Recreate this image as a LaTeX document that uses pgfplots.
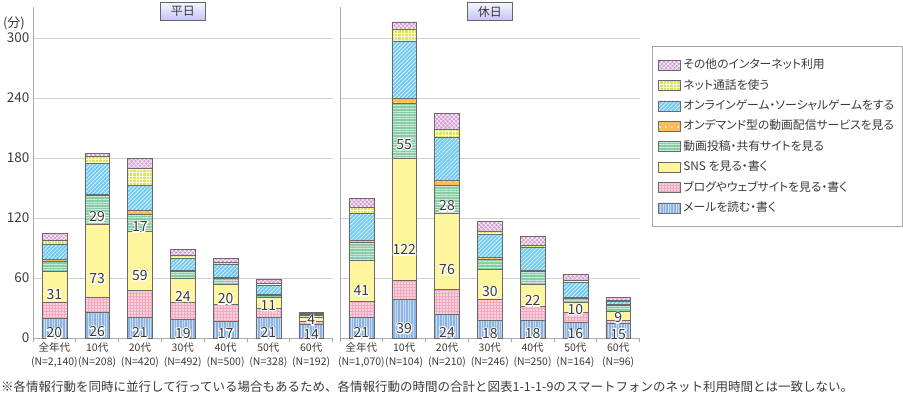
\documentclass[border=0pt]{standalone}
\usepackage{fontspec}
\setmainfont{Noto Sans CJK JP}
\newfontfamily\jpp[RawFeature=+palt]{Noto Sans CJK JP}
\usepackage{pgfplots}
\usepackage{pgfplotstable}
\pgfplotsset{compat=1.18}
\usetikzlibrary{patterns.meta}
\newcommand\halo[1]{\rlap{\special{pdf:literal direct 1 Tr 1 1 1 RG 2.4 w 1 j}#1\special{pdf:literal direct 0 Tr}}#1}

\definecolor{cMail}{HTML}{8DB3E2}
\definecolor{cMailL}{HTML}{C6DAF2}
\definecolor{cBlog}{HTML}{F3A8BD}
\definecolor{cSNS}{HTML}{FFF59D}
\definecolor{cVid}{HTML}{88CDA6}
\definecolor{cVidL}{HTML}{CBEAD8}
\definecolor{cOnd}{HTML}{F8BE55}
\definecolor{cGame}{HTML}{6FC9F1}
\definecolor{cNet}{HTML}{DCE458}
\definecolor{cOth}{HTML}{D69DD4}
\definecolor{cEdge}{HTML}{6A6A6A}
\definecolor{cTxt}{HTML}{3A3A3A}

\pgfplotstableread{
x mail blog sns vid ond game net oth vl
0 20 16 31 10 1.5 15 4 7 0
1 26 15 73 29 1 31 7 3 1
2 21 27 59 17 4 25 17 10 1
3 19 17 24 7 1 12 3 6 0
4 17 17 20 6 1 13 2 4 0
5 21 9 11 2 1 9 2 4 0
6 14 3 4 1.5 0.5 1 1 0.5 0
}\wkday

\pgfplotstableread{
x mail blog sns vid ond game net oth vl
0 21 16 41 18 1.5 27 6 9 0
1 39 19 122 55 5 57 12 7 1
2 24 25 76 28 5 43 8 16 1
3 18 21 30 10 2 23 3 10 0
4 18 14 22 13 1 23 2 9 0
5 16 10 10 4 1 15 2 6 0
6 15 3 9 6 0.5 3.5 0.5 3 0
}\hday

\pgfplotsset{
  sMail/.style={draw=cEdge, line width=0.5pt, preaction={fill=cMail}, pattern={Lines[angle=90,distance=2.6pt,line width=0.7pt]}, pattern color=cMailL},
  sBlog/.style={draw=cEdge, line width=0.5pt, preaction={fill=cBlog}, pattern={Dots[distance=3pt,radius=0.85pt]}, pattern color=white},
  sSNS/.style={draw=cEdge, line width=0.5pt, fill=cSNS},
  sVid/.style={draw=cEdge, line width=0.5pt, preaction={fill=cVid}, pattern={Lines[angle=0,distance=2.6pt,line width=0.7pt]}, pattern color=cVidL},
  sOnd/.style={draw=cEdge, line width=0.5pt, preaction={fill=cOnd}, pattern={Dots[distance=6pt,radius=0.8pt]}, pattern color=white},
  sGame/.style={draw=cEdge, line width=0.5pt, preaction={fill=cGame}, pattern={Lines[angle=45,distance=2.8pt,line width=0.8pt]}, pattern color=white!75!cGame},
  sNet/.style={draw=cEdge, line width=0.5pt, preaction={fill=cNet}, pattern={Hatch[angle=0,distance=3.4pt,line width=0.7pt]}, pattern color=white!85!cNet},
  sOth/.style={draw=cEdge, line width=0.5pt, preaction={fill=cOth}, pattern={Hatch[angle=45,distance=3pt,line width=0.6pt]}, pattern color=white!85!cOth},
  lab/.style={every node near coord/.append style={anchor=center, yshift=-0.25pt*\rawy, text=cTxt, font=\fontsize{14}{16}\selectfont, inner sep=0pt}},
  base/.style={
    scale only axis, x=42.8pt, y=1pt,
    xmin=-0.5, xmax=6.5, ymin=0, ymax=331,
    ybar stacked, bar width=0.58,
    axis lines=left, axis line style={-, draw=gray!65, line width=1pt},
    xtick={0,...,6}, ytick={0,60,...,300},
    minor xtick={-0.5,0.5,...,6.5},
    major tick length=0pt, minor tick length=3.5pt, tick align=outside,
    minor tick style={draw=gray!70, line width=0.8pt},
    ymajorgrids, grid style={draw=gray!35, line width=0.8pt},
    /pgf/number format/assume math mode=true,
    yticklabel style={font=\fontsize{13.5}{15}\selectfont, text=cTxt},
    xticklabel style={font=\fontsize{10.5}{14.5}\selectfont, text=cTxt, align=center, yshift=-1pt},
    every axis title/.style={at={(0.5,1)}, anchor=center, yshift=-4.5pt, draw=gray!80!black, line width=0.6pt,
      top color=blue!4!white, bottom color=blue!22!white!95!gray, minimum width=45pt, minimum height=17.5pt,
      inner sep=0pt, font=\fontsize{12}{14}\selectfont, text=cTxt},
    legend image code/.code={\draw[##1] (0pt,-5pt) rectangle (22pt,5pt);},
  },
}

\newcommand{\bars}[1]{%
  \addplot[sMail, lab, visualization depends on=rawy\as\rawy,
    nodes near coords={\halo{\pgfmathprintnumber{\rawy}}}] table[x=x,y=mail]{#1};
  \addplot[sBlog] table[x=x,y=blog]{#1};
  \addplot[sSNS, lab, visualization depends on=rawy\as\rawy,
    nodes near coords={\halo{\pgfmathprintnumber{\rawy}}}] table[x=x,y=sns]{#1};
  \addplot[sVid, lab, visualization depends on=rawy\as\rawy,
    visualization depends on={\thisrow{vl}\as\vlab},
    nodes near coords={\ifdim\vlab pt>0.5pt \halo{\pgfmathprintnumber{\rawy}}\fi}] table[x=x,y=vid]{#1};
  \addplot[sOnd] table[x=x,y=ond]{#1};
  \addplot[sGame] table[x=x,y=game]{#1};
  \addplot[sNet] table[x=x,y=net]{#1};
  \addplot[sOth] table[x=x,y=oth]{#1};
}

\begin{document}
\begin{tikzpicture}
\path[use as bounding box] (-33pt,-59pt) rectangle (870pt,338pt);
\begin{axis}[base, at={(0pt,0pt)}, anchor=south west, title={平日},
  xticklabels={{全年代\\(N=2,140)},{10代\\(N=208)},{20代\\(N=420)},{30代\\(N=492)},{40代\\(N=500)},{50代\\(N=328)},{60代\\(N=192)}}]
\bars{\wkday}
\end{axis}
\begin{axis}[base, at={(307pt,0pt)}, anchor=south west, title={休日},
  yticklabels={},
  xticklabels={{全年代\\(N=1,070)},{10代\\(N=104)},{20代\\(N=210)},{30代\\(N=246)},{40代\\(N=250)},{50代\\(N=164)},{60代\\(N=96)}},
  reverse legend,
  legend cell align=left,
  legend style={at={(1.0414,0.882)}, anchor=north west, draw=gray!70, line width=0.8pt,
    font=\jpp\fontsize{11.8}{14}\selectfont, text=cTxt, inner xsep=6pt, inner ysep=8.3pt, row sep=0pt,
    nodes={inner xsep=2.5pt, inner ysep=3pt, text height=11pt, text depth=3.4pt}},
  legend entries={メールを読む・書く, ブログやウェブサイトを見る・書く, SNS を見る・書く, 動画投稿・共有サイトを見る, オンデマンド型の動画配信サービスを見る, オンラインゲーム・ソーシャルゲームをする, ネット通話を使う, その他のインターネット利用}]
\bars{\hday}
\end{axis}
\node[font=\fontsize{13}{15}\selectfont, text=cTxt, inner sep=0pt] at (-19pt,315pt) {(分)};
\node[anchor=west, font=\fontsize{12.5}{14}\selectfont, text=cTxt, inner sep=0pt] at (-32pt,-49pt)
  {※各情報行動を同時に並行して行っている場合もあるため、各情報行動の時間の合計と図表1-1-1-9のスマートフォンのネット利用時間とは一致しない。};
\end{tikzpicture}
\end{document}
